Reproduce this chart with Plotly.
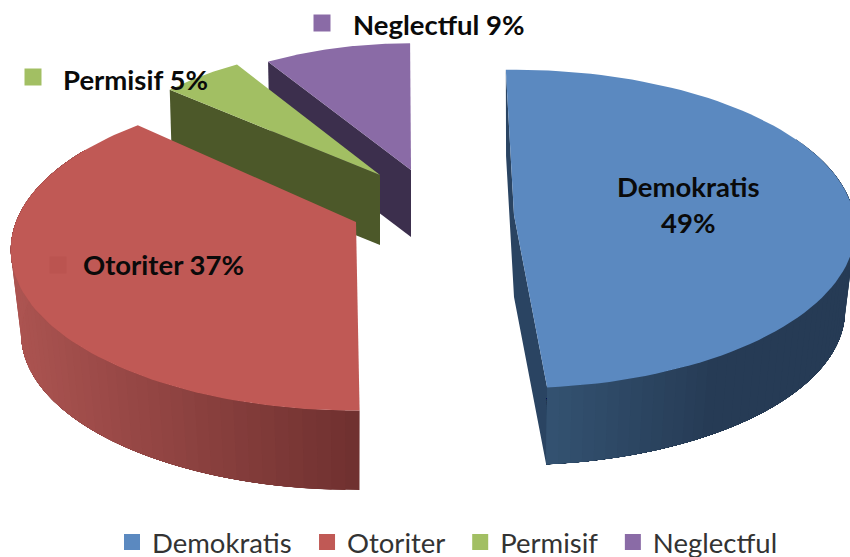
import math
import plotly.graph_objects as go

# --- data ---
categories = ["Demokratis", "Otoriter", "Permisif", "Neglectful"]
percent = [49, 37, 5, 9]

# --- drawing style (projection of each exploded slice) ---
W, H = 850, 557
start_angle = -1.5
angle_nudge = [0.0, 4.6, 1.9, 1.3]
sweep_scale = [1.0, 1.01, 1.0, 1.0]
center_x = [514, 356, 380, 411]
center_y = [215, 222, 175, 170]
radius_a = [340, 340, 290, 285]
radius_b = [158, 156, 140, 138]
persp = [0.088, 0.173, 0.088, 0.088]
depth = [82, 85, 70, 67]
bottom_scale = [0.97, 0.97, 0.99, 0.99]
top_color = ["#5b89c0", "#c05955", "#a2bf63", "#8a6ba6"]
cut_color = ["#2a4462", "#7a3634", "#4c5829", "#3c2f4d"]
side_left = [(52, 83, 114), (172, 84, 81), (90, 105, 50), (70, 55, 90)]
side_right = [(38, 59, 85), (112, 49, 48), (76, 88, 41), (60, 47, 77)]
draw_order = [3, 2, 1, 0]
text_font = "Lato"


def project(i, theta, bottom=False):
    t = math.radians(theta)
    u, v = math.sin(t), math.cos(t)
    w = 1 + persp[i] * v
    dx = radius_a[i] * u / w
    dy = -radius_b[i] * v / w
    if bottom:
        s = bottom_scale[i]
        return center_x[i] + dx * s, center_y[i] + depth[i] + dy * s
    return center_x[i] + dx, center_y[i] + dy


def center(i, bottom=False):
    return center_x[i], center_y[i] + (depth[i] if bottom else 0)


def arc(i, a0, a1, bottom=False, n=90):
    return [project(i, a0 + (a1 - a0) * k / n, bottom) for k in range(n + 1)]


def poly(points, color):
    xs = [p[0] for p in points] + [points[0][0]]
    ys = [p[1] for p in points] + [points[0][1]]
    return go.Scatter(x=xs, y=ys, mode="lines", fill="toself", fillcolor=color,
                      line=dict(color=color, width=0), hoverinfo="skip", showlegend=False)


# slice angles derived from the values
spans = [p * 3.6 for p in percent]
angles = []
acc = start_angle
for i, s in enumerate(spans):
    first = acc + angle_nudge[i]
    angles.append((first, first + s * sweep_scale[i]))
    acc += s

fig = go.Figure()
for i in draw_order:
    a0, a1 = angles[i]
    # cut faces
    cut = [project(i, a0), center(i), project(i, a1), project(i, a1, True),
           center(i, True), project(i, a0, True)]
    if i in (2, 3):
        cut = [project(i, a0), center(i), center(i, True), project(i, a0, True)]
    if i != 1:
        fig.add_trace(poly(cut, cut_color[i]))
    # outer wall, shaded in overlapping bands so no seams appear
    if i in (0, 1):
        lo, hi = (60, a1) if i == 0 else (a0, 300)
        bands = 60
        for k in range(bands):
            b0 = lo + (hi - lo) * k / bands
            pts = arc(i, b0, hi, False, 30) + arc(i, hi, b0, True, 30)
            xm = (pts[0][0] + pts[-1][0]) / 2
            if i == 0:
                f = min(1, max(0, (xm - 548) / 170))
            else:
                f = min(1, max(0, (xm - 15) / 345))
            c = [round(side_left[i][j] + (side_right[i][j] - side_left[i][j]) * f) for j in range(3)]
            fig.add_trace(poly(pts, "rgb(%d,%d,%d)" % tuple(c)))
    # top face
    fig.add_trace(poly([center(i)] + arc(i, a0, a1), top_color[i]))

# small keys next to the data labels
key_x = [58, 33, 322]
key_y = [265, 77, 23]
key_c = ["#bb5450", top_color[2], top_color[3]]
fig.add_trace(go.Scatter(x=key_x, y=key_y, mode="markers",
                         marker=dict(symbol="square", size=17, color=key_c, line=dict(width=0)),
                         hoverinfo="skip", showlegend=False))

# legend entries
for i, name in enumerate(categories):
    fig.add_trace(go.Scatter(x=[None], y=[None], mode="markers", name=name + "\u00a0\u2009",
                             marker=dict(symbol="square", size=17, color=top_color[i])))

labels = [
    ("Demokratis<br>49%", 688, 204, "center"),
    ("Otoriter 37%", 81, 264, "left"),
    ("Permisif 5%", 61, 79, "left"),
    ("Neglectful 9%", 351, 24, "left"),
]
annotations = [dict(x=x, y=y, text="<b>%s</b>" % t, xref="x", yref="y", showarrow=False,
                    xanchor=anc, yanchor="middle", align="center",
                    font=dict(family=text_font, size=27.5, color="#0a0a0a"))
               for t, x, y, anc in labels]

fig.update_layout(
    width=W, height=H, margin=dict(l=0, r=0, t=0, b=0, autoexpand=False),
    paper_bgcolor="white", plot_bgcolor="white",
    xaxis=dict(range=[0, W], visible=False, fixedrange=True),
    yaxis=dict(range=[H, 0], visible=False, fixedrange=True),
    annotations=annotations,
    showlegend=True,
    legend=dict(orientation="h", x=112 / W, xanchor="left", y=15 / H, yanchor="middle",
                font=dict(family=text_font, size=27.5, color="#333333"),
                bgcolor="rgba(0,0,0,0)", traceorder="normal"),
)
fig.write_html("out.html", config={"displayModeBar": False},
               post_script="document.body.style.margin='0';document.body.style.overflow='hidden';")
